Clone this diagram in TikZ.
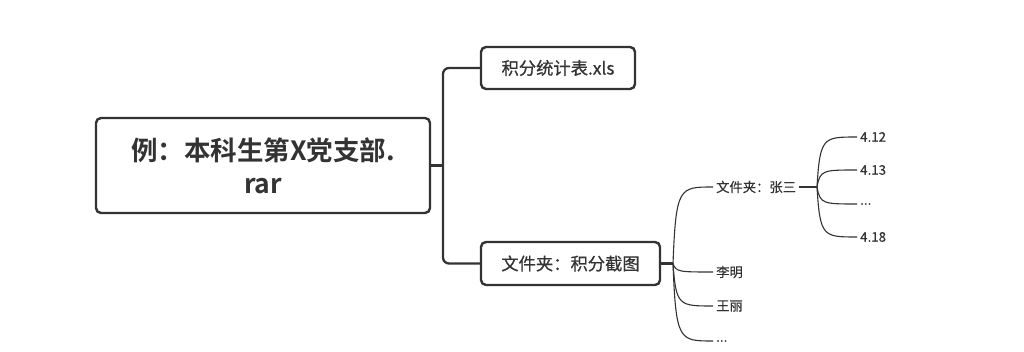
\documentclass[tikz,border=0pt]{standalone}
\usepackage{fontspec}
\usetikzlibrary{calc}
\setmainfont{Noto Sans CJK SC}
\newfontfamily\cjkb{Noto Sans CJK SC Bold}
\newfontfamily\cjkm[FakeBold=0.6]{Noto Sans CJK SC}
\newfontfamily\cjks[FakeBold=0.3]{Noto Sans CJK SC}
\definecolor{ink}{HTML}{333333}
\begin{document}
\begin{tikzpicture}[x=1pt,y=-1pt,
  box/.style={draw=ink,line width=2.4pt,rounded corners=5pt,text=ink,align=center,inner sep=0pt},
  thick conn/.style={draw=ink,line width=2.3pt},
  thin conn/.style={draw=ink,line width=1.1pt},
  leaf/.style={anchor=west,text=ink,font=\cjks\fontsize{13.3}{15}\selectfont,inner sep=3pt}]
\useasboundingbox[fill=white] (0,0) rectangle (1024,352);
\node[box,minimum width=334pt,minimum height=95pt,font=\cjkb\fontsize{26.5}{33}\selectfont] (main) at (263,165.5) {例：本科生第X党支部.\\rar};
\node[box,minimum width=154pt,minimum height=42pt,font=\cjkm\fontsize{17.3}{19}\selectfont] (b2) at (558,68) {积分统计表.xls};
\node[box,minimum width=179pt,minimum height=43pt,font=\cjkm\fontsize{17.3}{19}\selectfont] (b3) at (570.5,263.5) {文件夹：积分截图};
\coordinate (j) at (443,165.5);
\draw[thick conn] (main.east) -- (j);
\draw[thick conn,rounded corners=6pt] (b2.west) -| (j) |- (b3.west);
\coordinate (c3) at (673,263.5);
\draw[thick conn] (b3.east) -- (c3);
\node[leaf] (z) at (713,187) {文件夹：张三};
\node[leaf] (l) at (713,272) {李明};
\node[leaf] (w) at (713,306) {王丽};
\node[leaf] (e) at (713,341) {...};
\foreach \n in {z,l,w,e}{
  \draw[thin conn] (c3) .. controls ($(c3|-\n.west)+(3,0)$) and ($(c3|-\n.west)+(6,0)$) .. (\n.west);
}
\coordinate (z2) at (817,187);
\draw[thin conn] (z.east) -- (z2);
\node[leaf] (d1) at (857,137) {4.12};
\node[leaf] (d2) at (857,170) {4.13};
\node[leaf] (d3) at (857,204) {...};
\node[leaf] (d4) at (857,237) {4.18};
\foreach \n in {d1,d2,d3,d4}{
  \draw[thin conn] (z2) .. controls ($(z2|-\n.west)+(3,0)$) and ($(z2|-\n.west)+(6,0)$) .. (\n.west);
}
\end{tikzpicture}
\end{document}
